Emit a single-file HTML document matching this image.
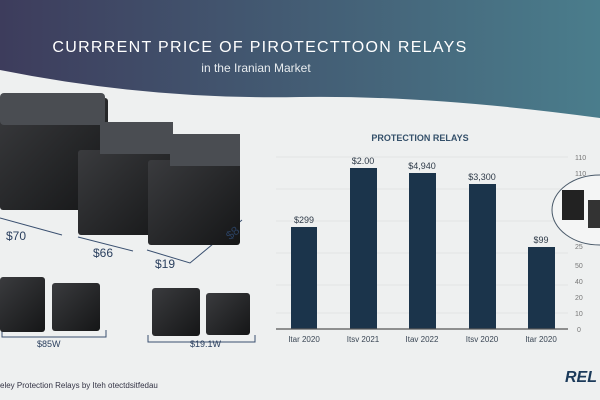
<!DOCTYPE html><html><head><style>
body{margin:0;width:600px;height:400px;overflow:hidden;background:#eef0f0;font-family:"Liberation Sans",sans-serif;position:relative}
.a{position:absolute}
.r{position:absolute;background:linear-gradient(135deg,#3a3b3e,#151617);border-radius:3px}
.t{position:absolute;background:#4a4d52}
.l{position:absolute;color:#2a3f5e;font-size:12px;z-index:5}
</style></head><body>
<svg class="a" style="left:0;top:0" width="600" height="400">
<defs><linearGradient id="g" x1="0" x2="1"><stop offset="0" stop-color="#3d3c5c"/><stop offset="1" stop-color="#4a7d8c"/></linearGradient></defs>
<path d="M0 0H600V118Q430 95 300 97Q150 100 0 70Z" fill="url(#g)"/>
<text x="260" y="52" text-anchor="middle" fill="#fff" font-size="16" font-family="Liberation Sans" letter-spacing="1.3">CURRRENT PRICE OF PIROTECTTOON RELAYS</text>
<text x="256" y="72" text-anchor="middle" fill="#e8ecef" font-size="12" font-family="Liberation Sans">in the Iranian Market</text>
<text x="420" y="141" text-anchor="middle" fill="#34506a" font-size="9" font-weight="bold" font-family="Liberation Sans">PROTECTION RELAYS</text>
<g stroke="#e2e4e4" stroke-width="1"><line x1="276" x2="568" y1="157" y2="157"/><line x1="276" x2="568" y1="189" y2="189"/><line x1="276" x2="568" y1="221" y2="221"/><line x1="276" x2="568" y1="253" y2="253"/><line x1="276" x2="568" y1="285" y2="285"/><line x1="276" x2="568" y1="313" y2="313"/></g>
<g fill="#1b344b"><rect x="291" y="227" width="26" height="102"/><rect x="350" y="168" width="27" height="161"/><rect x="409" y="173" width="27" height="156"/><rect x="469" y="184" width="27" height="145"/><rect x="528" y="247" width="27" height="82"/></g>
<line x1="276" x2="568" y1="329" y2="329" stroke="#555" stroke-width="1.2"/>
<g fill="#2e3a48" font-size="9" font-family="Liberation Sans" text-anchor="middle"><text x="304" y="223">$299</text><text x="363" y="164">$2.00</text><text x="422" y="169">$4,940</text><text x="482" y="180">$3,300</text><text x="541" y="243">$99</text></g>
<g fill="#3a4654" font-size="8" font-family="Liberation Sans" text-anchor="middle"><text x="304" y="342">Itar 2020</text><text x="363" y="342">Itsv 2021</text><text x="422" y="342">Itav 2022</text><text x="482" y="342">Itsv 2020</text><text x="541" y="342">Itar 2020</text></g>
<g fill="#777" font-size="7" font-family="Liberation Sans"><text x="575" y="160">110</text><text x="575" y="176">110</text><text x="575" y="237">25</text><text x="575" y="249">25</text><text x="575" y="268">50</text><text x="575" y="284">40</text><text x="575" y="300">20</text><text x="575" y="316">10</text><text x="577" y="332">0</text></g>
<ellipse cx="600" cy="210" rx="48" ry="35" fill="#f4f5f5" stroke="#4a5a6a"/>
<rect x="562" y="190" width="22" height="30" fill="#222"/><rect x="588" y="200" width="14" height="28" fill="#333"/>
<text x="565" y="382" fill="#1b3a5a" font-size="16" font-weight="bold" font-style="italic" font-family="Liberation Sans">REL</text>
<text x="0" y="388" fill="#334" font-size="8" font-family="Liberation Sans">eley Protection Relays by Iteh otectdsitfedau</text>
<g stroke="#3a5070" stroke-width="1" fill="none"><path d="M0 218L62 235"/><path d="M78 237L133 251"/><path d="M147 250L190 263L242 220"/><path d="M2 330V337H106V330"/><path d="M148 335V342H255V335"/></g>
</svg>
<div class="r" style="left:0;top:98px;width:108px;height:112px"></div>
<div class="t" style="left:0;top:93px;width:105px;height:32px;border-radius:4px"></div>
<div class="r" style="left:78px;top:150px;width:97px;height:85px"></div>
<div class="t" style="left:100px;top:122px;width:73px;height:32px"></div>
<div class="r" style="left:148px;top:160px;width:92px;height:85px"></div>
<div class="t" style="left:170px;top:134px;width:70px;height:32px"></div>
<div class="r" style="left:0;top:277px;width:45px;height:55px"></div>
<div class="r" style="left:52px;top:283px;width:48px;height:48px"></div>
<div class="r" style="left:152px;top:288px;width:48px;height:48px"></div>
<div class="r" style="left:206px;top:293px;width:44px;height:42px"></div>
<div class="l" style="left:6px;top:229px">$70</div>
<div class="l" style="left:93px;top:246px">$66</div>
<div class="l" style="left:155px;top:257px">$19</div>
<div class="l" style="left:226px;top:226px;transform:rotate(-40deg)">$8</div>
<div class="l" style="left:37px;top:339px;font-size:9px">$85W</div>
<div class="l" style="left:190px;top:339px;font-size:9px">$19.1W</div>
</body></html>
